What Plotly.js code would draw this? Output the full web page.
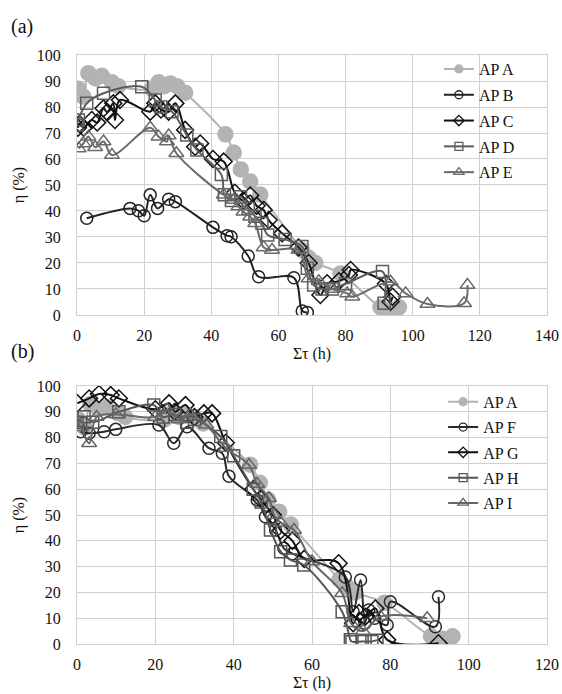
<!DOCTYPE html>
<html><head><meta charset="utf-8">
<script src="https://cdn.plot.ly/plotly-3.0.1.min.js"></script>
<style>html,body{margin:0;padding:0;background:#fff}#chart{width:562px;height:694px}</style>
</head><body><div id="chart"></div>
<script>
// ---------- Panel (a) data ----------
const apA_x = [0.4,1.9,3.4,5.5,7.4,10.4,12.3,22.3,24.3,26,27.8,29.8,32.2,44.2,46.7,48.8,51.6,54.6,67,69,71,78.5,90.4,93.4,95.9];
const apA_y = [87,84,93,91,92,89.5,88,87,89.5,88,89,88,85.5,69.5,62.5,56,51.3,46.3,25,22,20,16,3,2,3];

const apB_x = [2.9,15.8,18.3,20,21.8,24,27.3,29.3,40.5,44.7,45.9,51,54.1,64.6,67.1,68.6];
const apB_y = [37.2,41,40.1,38.2,46.2,41,44.5,43.6,33.7,30.5,30.1,22.7,14.7,14.3,1.5,1];

const apC_x = [0.3,0.7,2,4.4,6,7.9,9,10.8,11.3,12.8,21.8,23.3,25,27.3,29.3,32.2,35.2,36.7,40.5,43.7,47,49.5,51.6,53.5,55.6,57.1,61.1,66,69,72.5,74.5,78,81,81.5,92,93.4,94];
const apC_y = [72,73.5,72,75,74,79.5,78,81.4,75,82.7,78.2,81.4,79,78.2,81.4,71.2,64.7,66,60,59,47,44,46,42,40.4,36.5,31.4,26,20,7.7,12.2,13,15.4,17.3,12,5.1,7];

const apD_x = [0,0.4,2.9,7.9,19.3,23.3,25,28.3,32.7,35.7,43,43.9,46,48.7,51,53,55.1,56.8,62,67,68.6,70.5,73,76,80,91,91.5];
const apD_y = [73,75,81.4,85.3,87.8,82.7,80,78.2,69.2,63.5,54,46.2,44,45.5,41,38,35.3,30.8,29,26.3,18,11.5,10,10,12,16.7,4.5];

const apE_x = [0.5,1.9,3.4,5.4,7.9,10.4,21.8,24.3,26.8,27.3,29.6,43.7,46.7,48.1,49.6,51.6,53.1,55.6,58.1,66,69,72,76,80.5,82,93.4,97.9,104.4,115.3,116.3];
const apE_y = [64,66,68.6,64.5,66.7,61.5,72,68.6,66.7,69,62.2,46.2,44.2,41.7,39.7,37.8,35.3,26,25,25,14,13,10,8.3,7,12.8,8.3,4.2,4.5,11.5];

// ---------- Panel (b) data ----------
const apF_x = [0.9,3.1,6.9,9.9,20.9,24.7,28.1,33.7,37.1,38.8,46,48.1,50.7,52.8,55,68.5,70.5,72.4,73.5,74.5,76,79.2,80,91.5,92.3];
const apF_y = [82.3,81.7,82.3,83.2,84.9,77.8,84.2,75.9,73.9,65,55.8,49.3,44.2,37.1,35,26,12.5,24.8,8,13.2,10,7.4,16.4,6.7,18.3];

const apG_x = [0.1,3.1,5.6,8.6,10.7,20,23.5,25,27.7,30,32.4,34.5,38,45,47,50,52,55,58,66.8,70.5,72,73.6,76.2,79.2,92.3];
const apG_y = [93.3,95.2,96.9,96.5,95.2,91,93.3,90,92.6,88,89.4,89.4,78,60,56,50,44,40,33,31.3,8,12,10.6,13.8,1.6,0.3];

const apH_x = [0,1.8,4,10.7,19.6,22,25,28,30,36.7,40,45,47,49.4,52,54.5,57.9,67.7,69.8,70.2,72.8,75.3,76.6];
const apH_y = [86,88.1,86,90,92.6,88,89,86,87,80.4,73,60,55,44.2,35.8,32.6,30.6,12.5,1.6,0.9,1,1,1.5];

const apI_x = [0,1,3.1,5,10,20,23,26,29,33,38,43.9,46,49,50.3,52,55.4,60,67.7,70,73,77.5,89.4];
const apI_y = [86,84,77.8,88,89,88,90.7,87,89,85,76,69.4,62,56.5,50,47,44.2,32,19.7,8,5,10.6,10];

const namesA = ['AP A','AP B','AP C','AP D','AP E'];
const namesB = ['AP A','AP F','AP G','AP H','AP I'];
const xTitle = 'Στ (h)';
const yTitle = 'η (%)';

// ---------- styles ----------
const FONT = '"Liberation Serif", "Times New Roman", Times, serif';
const sty = {
  'AP A': {color:'#b3b3b3', symbol:'circle', size:15, lsize:8},
  'AP B': {color:'#222222', symbol:'circle-open', size:12, lsize:8},
  'AP C': {color:'#111111', symbol:'diamond-open', size:13, lsize:8},
  'AP D': {color:'#5c5c5c', symbol:'square-open', size:12, lsize:8},
  'AP E': {color:'#6a6a6a', symbol:'triangle-up-open', size:13, lsize:9},
  'AP F': {color:'#2a2a2a', symbol:'circle-open', size:12, lsize:8},
  'AP G': {color:'#111111', symbol:'diamond-open', size:13, lsize:8},
  'AP H': {color:'#555555', symbol:'square-open', size:12, lsize:8},
  'AP I': {color:'#666666', symbol:'triangle-up-open', size:13, lsize:9}
};

function tr(name, x, y, xa, ya){
  const s = sty[name];
  return {type:'scatter', mode:'lines+markers', x:x, y:y, xaxis:xa, yaxis:ya, showlegend:false,
    line:{color:s.color, width:2, shape:'spline', smoothing:1},
    marker:{symbol:s.symbol, size:s.size, color:s.color, line:{color:s.color, width:1.5}},
    cliponaxis:true, hoverinfo:'skip'};
}
function leg(name, legend){
  const s = sty[name];
  return {type:'scatter', mode:'lines+markers', x:[null], y:[null], name:name, legend:legend,
    legendgroup:legend+name, showlegend:true,
    line:{color:s.color, width:2},
    marker:{symbol:s.symbol, size:s.lsize, color:s.color, line:{color:s.color, width:1.3}}};
}

const dataA = [[apA_x,apA_y],[apB_x,apB_y],[apC_x,apC_y],[apD_x,apD_y],[apE_x,apE_y]];
const dataB = [[apA_x,apA_y],[apF_x,apF_y],[apG_x,apG_y],[apH_x,apH_y],[apI_x,apI_y]];

const traces = [];
namesA.forEach((n,i)=>traces.push(tr(n, dataA[i][0], dataA[i][1], 'x', 'y')));
namesB.forEach((n,i)=>traces.push(tr(n, dataB[i][0], dataB[i][1], 'x2', 'y2')));
namesA.forEach(n=>traces.push(leg(n,'legend')));
namesB.forEach(n=>traces.push(leg(n,'legend2')));

const axBase = {
  showgrid:true, gridcolor:'#d0d0d0', gridwidth:1, zeroline:false,
  showline:true, linecolor:'#d0d0d0', linewidth:1, mirror:true,
  ticks:'', tickfont:{family:FONT, size:16, color:'#111'}
};

const layout = {
  width:562, height:694,
  paper_bgcolor:'#ffffff', plot_bgcolor:'#ffffff',
  margin:{l:77, r:15, t:55, b:50},
  font:{family:FONT, size:16, color:'#111'},
  xaxis: Object.assign({}, axBase, {domain:[0,1], range:[0,140], dtick:20, anchor:'y',
    ticklabelstandoff:6, title:{text:xTitle, font:{family:FONT,size:16}, standoff:4}}),
  yaxis: Object.assign({}, axBase, {domain:[0.5586,1], range:[0,100], dtick:10, anchor:'x',
    ticklabelstandoff:12, title:{text:yTitle, font:{family:FONT,size:16}, standoff:8}}),
  xaxis2: Object.assign({}, axBase, {domain:[0,1], range:[0,120], dtick:20, anchor:'y2',
    ticklabelstandoff:6, title:{text:xTitle, font:{family:FONT,size:16}, standoff:4}}),
  yaxis2: Object.assign({}, axBase, {domain:[0,0.438], range:[0,100], dtick:10, anchor:'x2',
    ticklabelstandoff:12, title:{text:yTitle, font:{family:FONT,size:16}, standoff:8}}),
  legend:{x:0.770, xanchor:'left', y:1.005, yanchor:'top', bgcolor:'rgba(0,0,0,0)',
    font:{family:FONT, size:16, color:'#111'}, tracegroupgap:2, itemsizing:'trace'},
  legend2:{x:0.779, xanchor:'left', y:0.44, yanchor:'top', bgcolor:'rgba(0,0,0,0)',
    font:{family:FONT, size:16, color:'#111'}, tracegroupgap:1.5, itemsizing:'trace'},
  annotations:[
    {text:'(a)', xref:'paper', yref:'paper', x:-0.145, y:1.048, xanchor:'left', yanchor:'middle',
     showarrow:false, font:{family:FONT, size:20, color:'#111'}},
    {text:'(b)', xref:'paper', yref:'paper', x:-0.145, y:0.497, xanchor:'left', yanchor:'middle',
     showarrow:false, font:{family:FONT, size:20, color:'#111'}}
  ]
};

Plotly.newPlot('chart', traces, layout, {displayModeBar:false, staticPlot:true});
</script></body></html>
